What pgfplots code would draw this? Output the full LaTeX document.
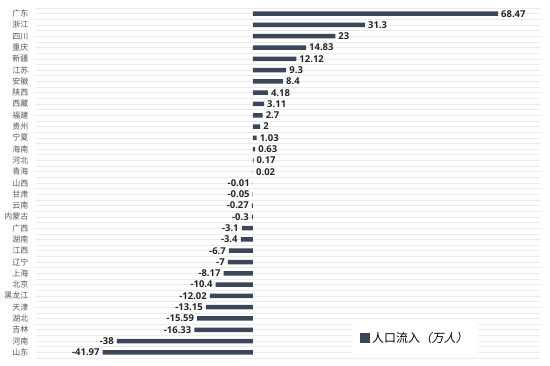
\documentclass[border=0pt]{standalone}
\usepackage{pgfplots}
\pgfplotsset{compat=1.18}
\usepackage{pgfplotstable}
\usepackage{fontspec}
\setmainfont{Noto Sans CJK SC}
\newfontfamily\cjkit[FakeSlant=0.2]{Noto Sans CJK SC}
\newfontfamily\numfont{Open Sans}
\definecolor{barc}{HTML}{3B4659}
\definecolor{gridc}{HTML}{EBEBEB}
\definecolor{labc}{HTML}{555555}
\pgfplotstableread{
idx val name
0 68.47 广东
1 31.3 浙江
2 23 四川
3 14.83 重庆
4 12.12 新疆
5 9.3 江苏
6 8.4 安徽
7 4.18 陕西
8 3.11 西藏
9 2.7 福建
10 2 贵州
11 1.03 宁夏
12 0.63 海南
13 0.17 河北
14 0.02 青海
15 -0.01 山西
16 -0.05 甘肃
17 -0.27 云南
18 -0.3 内蒙古
19 -3.1 广西
20 -3.4 湖南
21 -6.7 江西
22 -7 辽宁
23 -8.17 上海
24 -10.4 北京
25 -12.02 黑龙江
26 -13.15 天津
27 -15.59 湖北
28 -16.33 吉林
29 -38 河南
30 -41.97 山东
}\data
\begin{document}
\begin{tikzpicture}
\path[use as bounding box] (0,0) rectangle (550bp,366bp);
\begin{axis}[
  at={(36bp,8bp)}, anchor=south west,
  scale only axis, width=504bp, height=350bp,
  xbar, bar width=4.5bp,
  xmin=-60.6, xmax=80.2,
  ymin=-0.5, ymax=30.5, y dir=reverse,
  axis line style={draw=none},
  major tick style={draw=none}, minor tick style={draw=none},
  ytick=data, yticklabels from table={\data}{name},
  yticklabel style={font=\fontsize{8}{9}\selectfont, text=labc},
  minor ytick={-0.5,0.5,...,30.5},
  ymajorgrids=true, yminorgrids=true,
  major grid style={gridc, line width=0.6pt},
  minor grid style={gridc, line width=0.6pt},
  xtick=\empty,
  clip=false,
  nodes near coords,
  point meta=x,
  /pgf/number format/assume math mode=true,
  /pgf/number format/.cd, fixed, precision=2, /pgfplots/.cd,
  nodes near coords style={font=\numfont\bfseries\fontsize{9.5}{10}\selectfont, text=black!85, inner xsep=3pt, inner ysep=1pt},
  legend style={at={(0.752,0.057)}, anchor=center, draw=none, fill=white, font=\fontsize{12}{13}\selectfont, inner xsep=8pt, inner ysep=7pt},
  legend image code/.code={\fill[barc] (0pt,-5pt) rectangle (10pt,5pt);},
]
\addplot[fill=barc, draw=none] table[x=val, y=idx] {\data};
\addlegendentry{人口流入{\cjkit （万人）}}
\end{axis}
\end{tikzpicture}
\end{document}
